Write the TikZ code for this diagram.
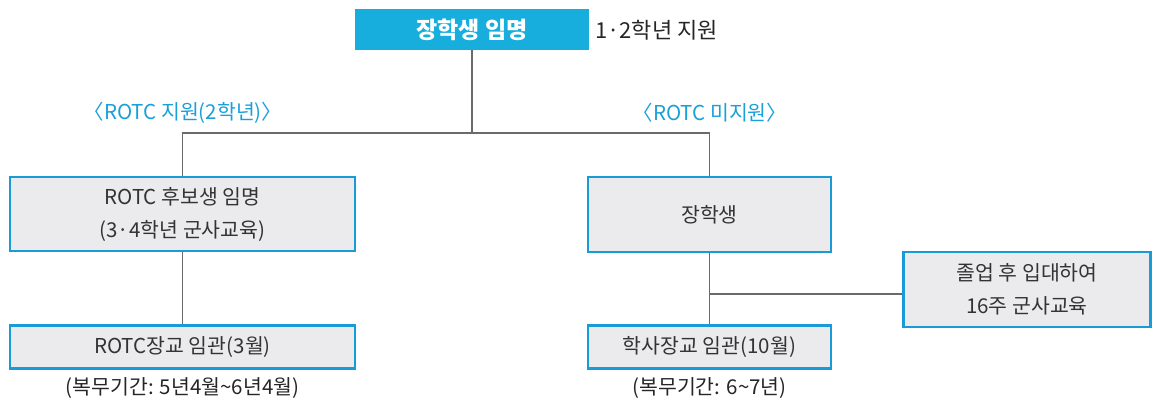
\documentclass[tikz,border=0pt]{standalone}
\usepackage{fontspec}
\setmainfont{Noto Sans CJK KR}
\usetikzlibrary{positioning}
\definecolor{CadetCyan}{HTML}{17AEDD}
\definecolor{CadetBlue}{HTML}{1A9AD6}
\definecolor{CadetLabel}{HTML}{1AA0D8}
\definecolor{CadetGray}{HTML}{EBEBEE}
\definecolor{CadetLine}{HTML}{6A6A6A}

\begin{document}
\begin{tikzpicture}[
  x=1pt, y=-1pt,
  font=\fontsize{20.5}{33}\selectfont,
  head/.style={fill=CadetCyan, text=white, font=\fontsize{23}{26}\selectfont\bfseries,
    minimum width=234pt, minimum height=41pt, inner sep=0pt},
  box/.style={draw=CadetBlue, line width=2.6pt, fill=CadetGray, align=center,
    text=black!80, inner sep=0pt},
  note/.style={text=black!85, inner sep=0pt},
  route/.style={text=CadetLabel, inner sep=0pt},
  link/.style={draw=CadetLine, line width=1.4pt}
]
\useasboundingbox (0,0) rectangle (1159,400);
\node[head] (appoint) at (472,29.5) {장학생 임명};
\node[note, anchor=west, font=\fontsize{22}{26}\selectfont] (grade) at (595,30) {1·2학년 지원};
\node[box, minimum width=345pt, minimum height=74pt] (cand) at (182.5,214) {ROTC 후보생 임명\\(3·4학년 군사교육)};
\node[box, minimum width=243pt, minimum height=75pt] (schol) at (709.5,214.5) {장학생};
\node[box, minimum width=247pt, minimum height=75pt] (enlist) at (1027,289.5) {졸업 후 입대하여\\16주 군사교육};
\node[box, minimum width=345pt, minimum height=43pt] (rotcoff) at (182.5,347) {ROTC장교 임관(3월)};
\node[box, minimum width=243pt, minimum height=43pt] (bachoff) at (709.5,347) {학사장교 임관(10월)};
\node[route] (yes) at (183,113) {〈ROTC 지원(2학년)〉};
\node[route] (no) at (710,113) {〈ROTC 미지원〉};
\node[note, below=8pt of rotcoff.south] (termA) {(복무기간: 5년4월\textasciitilde 6년4월)};
\node[note, below=8pt of bachoff.south] (termB) {(복무기간: 6\textasciitilde 7년)};
\coordinate (split) at (472,133);
\coordinate (merge) at (709.5,294);
\draw[link] (appoint.south) -- (split);
\draw[link] (cand.north) |- (split) -| (schol.north);
\draw[link] (cand.south) -- (rotcoff.north);
\draw[link] (schol.south) -- (bachoff.north);
\draw[link] (enlist.west |- merge) -- (merge);
\end{tikzpicture}
\end{document}
